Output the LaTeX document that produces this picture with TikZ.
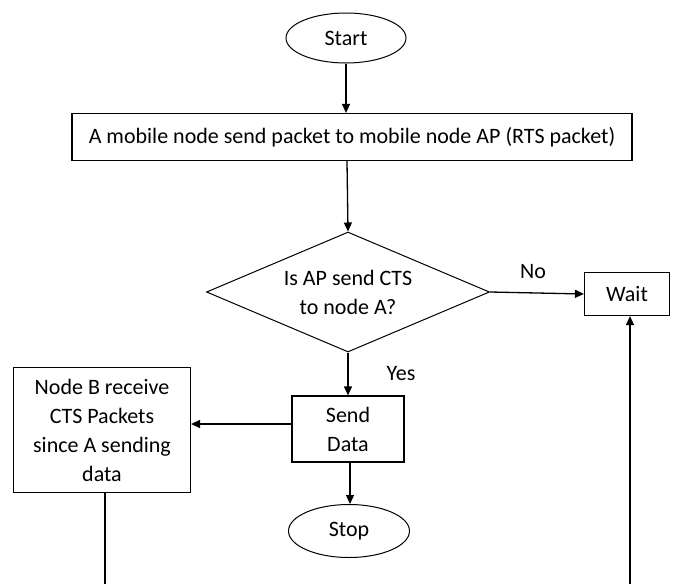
\documentclass[tikz,border=0pt]{standalone}
\usepackage{fontspec}
\setmainfont{Carlito}
\usetikzlibrary{shapes.geometric,arrows.meta}
\tikzset{
  every node/.style={font=\fontsize{22}{29}\selectfont},
  box/.style={draw,line width=1.2pt,inner sep=0pt,align=center},
  term/.style={draw,ellipse,line width=1pt,inner sep=0pt,minimum width=120pt,minimum height=50pt},
  decide/.style={draw,diamond,line width=1pt,inner sep=0pt,aspect=2.36,minimum width=283pt,minimum height=120pt,align=center},
  arr/.style={-{Triangle[length=9pt,width=8pt]},line width=1.3pt},
  lbl/.style={inner sep=0pt}
}
\begin{document}
\begin{tikzpicture}[x=1pt,y=-1pt]
      \useasboundingbox (0,0) rectangle (675,584);
      \draw
        (346,38) node[term] (start){Start}
        (352,137) node[box,minimum width=560pt,minimum height=47pt] (send){A mobile node send packet to mobile node AP (RTS packet)}
        (348,292) node[decide] (ask){Is AP send CTS\\to node A?}
        (627,294) node[box,minimum width=85pt,minimum height=43pt] (wait){Wait}
        (348,429) node[box,minimum width=112pt,minimum height=66pt] (data){Send\\Data}
        (102,430) node[box,minimum width=177pt,minimum height=125pt] (nodeb){Node B receive\\CTS Packets\\since A sending\\data}
        (349,531) node[term,minimum width=121pt,minimum height=53pt] (stop){Stop};
      \coordinate (bleft) at (105,584);
      \coordinate (bright) at (630,584);
      \coordinate (dleft) at ([yshift=5pt]data.west);
      \begin{scope}[arr]
        \draw (start) -- (start |- send.north);
        \draw ([xshift=-5pt]send.south) -- (ask.north);
        \draw (ask.east) -- node[lbl,above=14pt,xshift=-4pt] {No} (wait.west);
        \draw (ask.south) -- node[lbl,right=38pt] {Yes} (data.north);
        \draw (dleft) -- (nodeb.east |- dleft);
        \draw ([xshift=2pt]data.south) -- ([xshift=2pt]data.south |- stop.north);
        \draw (bright) -- (bright |- wait.south);
      \end{scope}
      \draw[line width=1.3pt] (bleft |- nodeb.south) -- (bleft);
    \end{tikzpicture}
\end{document}
